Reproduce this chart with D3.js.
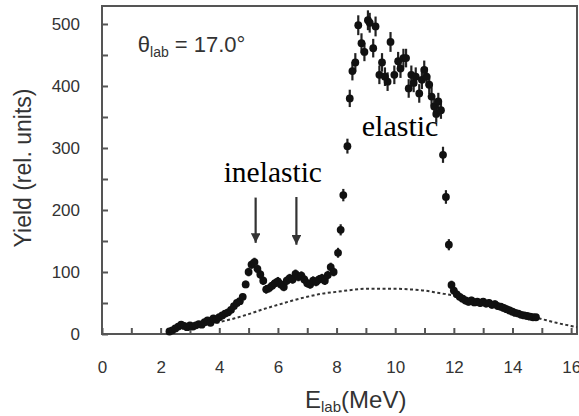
<!DOCTYPE html>
<html>
<head>
<meta charset="utf-8">
<script src="https://cdn.jsdelivr.net/npm/d3@7"></script>
<style>
  html, body { margin: 0; padding: 0; background: #fff; }
  svg { display: block; }
</style>
</head>
<body>
<div id="chart"></div>
<script>
// ---- Data ----
const energies = [
  2.3, 2.4, 2.5, 2.6, 2.7, 2.8, 2.9, 3.0, 3.1, 3.2, 3.3, 3.4, 3.5, 3.6, 3.7, 3.8, 3.9,
  4.0, 4.1, 4.2, 4.3, 4.4, 4.5, 4.6, 4.7, 4.8, 4.9, 5.0, 5.1, 5.2, 5.3, 5.4, 5.5, 5.6,
  5.7, 5.8, 5.9, 6.0, 6.1, 6.2, 6.3, 6.4, 6.5, 6.6, 6.7, 6.8, 6.9, 7.0, 7.1, 7.2, 7.3,
  7.4, 7.5, 7.6, 7.7, 7.8, 7.9,
  8.05, 8.14, 8.23, 8.37, 8.45, 8.54, 8.64, 8.74, 8.85, 8.95, 9.07, 9.13, 9.25, 9.33,
  9.46, 9.55, 9.65, 9.74, 9.84, 9.97, 10.10, 10.18, 10.28, 10.37, 10.46, 10.55, 10.63,
  10.70, 10.82, 10.91, 10.99, 11.07, 11.16, 11.24, 11.33, 11.40, 11.47, 11.56, 11.63,
  11.73, 11.83, 11.92,
  12.0, 12.1, 12.2, 12.3, 12.4, 12.5, 12.6, 12.7, 12.8, 12.9, 13.0, 13.1, 13.2, 13.3,
  13.4, 13.5, 13.6, 13.7, 13.8, 13.9, 14.0, 14.1, 14.2, 14.3, 14.4, 14.5, 14.6, 14.7, 14.8
];
const yields = [
  4, 6, 9, 12, 15, 13, 11, 14, 12, 14, 16, 15, 19, 22, 18, 25, 23,
  27, 30, 33, 35, 39, 45, 50, 53, 60, 80, 100, 112, 116, 105, 96, 86, 72,
  74, 78, 82, 85, 80, 76, 86, 90, 88, 97, 92, 94, 88, 82, 80, 86, 84,
  88, 90, 86, 95, 108, 100,
  131, 168, 224, 303, 380, 424, 438, 498, 469, 455, 506, 502, 461, 496,
  418, 438, 415, 407, 471, 418, 440, 428, 445, 445, 396, 418, 405,
  415, 388, 410, 426, 415, 402, 383, 367, 355, 375, 361, 289,
  221, 144, 79,
  70, 64, 60, 57, 54, 52, 54, 51, 52, 50, 52, 49, 50, 47,
  48, 45, 44, 42, 40, 38, 36, 34, 33, 31, 30, 29, 28, 27, 27
];
const errors = [
  3, 3, 3, 3, 3, 3, 3, 3, 3, 3, 3, 3, 3, 3, 3, 3, 3,
  4, 4, 4, 4, 4, 4, 5, 5, 5, 6, 7, 7, 7, 7, 7, 7, 7,
  7, 7, 7, 7, 7, 7, 7, 7, 7, 7, 7, 7, 7, 7, 7, 7, 7,
  7, 7, 7, 7, 7, 7,
  8, 9, 10, 12, 14, 15, 15, 16, 16, 15, 16, 16, 15, 16,
  15, 15, 15, 15, 16, 15, 15, 15, 15, 15, 15, 15, 15,
  15, 15, 15, 15, 15, 15, 15, 14, 14, 14, 14, 13,
  11, 9, 7,
  6, 6, 6, 6, 6, 6, 6, 6, 6, 6, 6, 6, 6, 6,
  6, 6, 6, 6, 6, 6, 6, 5, 5, 5, 5, 5, 5, 5, 5
];
// background (dotted) curve
const bgEnergies = [3.9, 4.5, 5.0, 5.5, 6.0, 6.5, 7.0, 7.5, 8.0, 8.5, 9.0, 9.5, 10.0,
  10.5, 11.0, 11.5, 12.0, 12.5, 13.0, 13.5, 14.0, 14.5, 15.0, 15.5, 16.0, 16.2];
const bgYields = [18, 25, 32, 40, 47, 54, 60, 65, 68, 71, 73, 73, 73,
  72, 70, 66, 62, 56, 50, 43, 37, 30, 24, 18, 13, 11];

const xTicks = [0, 1, 2, 3, 4, 5, 6, 7, 8, 9, 10, 11, 12, 13, 14, 15, 16];
const xTickLabels = ["0", "", "2", "", "4", "", "6", "", "8", "", "10", "", "12", "", "14", "", "16"];
const yTicks = [0, 50, 100, 150, 200, 250, 300, 350, 400, 450, 500];
const yTickLabels = ["0", "", "100", "", "200", "", "300", "", "400", "", "500"];

// annotations (data coordinates)
const arrowE = [5.24, 6.63];
const arrowFrom = [220, 221];
const arrowTo = [147, 144];

// ---- Layout ----
const W = 579, H = 416;
const margin = { top: 6, right: 2, bottom: 82, left: 102 };

const svg = d3.select("#chart").append("svg")
  .attr("width", W).attr("height", H);

const x = d3.scaleLinear().domain([0, 16.2]).range([margin.left, W - margin.right]);
const y = d3.scaleLinear().domain([0, 529]).range([H - margin.bottom, margin.top]);

const axisColor = "#555";

// defs: arrowhead
svg.append("defs").append("marker")
  .attr("id", "ah").attr("viewBox", "0 0 10 10")
  .attr("refX", 10).attr("refY", 5)
  .attr("markerWidth", 4.4).attr("markerHeight", 4.4)
  .attr("markerUnits", "strokeWidth")
  .attr("orient", "auto")
  .append("path").attr("d", "M0,0 L10,5 L0,10 z").attr("fill", "#333");

// frame
svg.append("rect")
  .attr("x", x(0)).attr("y", y(529))
  .attr("width", x(16.2) - x(0)).attr("height", y(0) - y(529))
  .attr("fill", "none").attr("stroke", axisColor).attr("stroke-width", 2);

// axes
const xAxis = d3.axisBottom(x).tickValues(xTicks)
  .tickFormat((d, i) => xTickLabels[i]).tickSize(-6).tickPadding(27);
const gx = svg.append("g").attr("transform", `translate(0,${y(0)})`).call(xAxis);
gx.select(".domain").remove();
gx.selectAll(".tick line").attr("stroke", axisColor).attr("stroke-width", 2);
gx.selectAll(".tick text").attr("fill", "#333")
  .style("font-family", "'Liberation Sans', Arial, sans-serif").style("font-size", "17px");

const yAxis = d3.axisLeft(y).tickValues(yTicks)
  .tickFormat((d, i) => yTickLabels[i]).tickSize(-6).tickPadding(22);
const gy = svg.append("g").attr("transform", `translate(${x(0)},0)`).call(yAxis);
gy.select(".domain").remove();
gy.selectAll(".tick line").attr("stroke", axisColor).attr("stroke-width", 2);
gy.selectAll(".tick text").attr("fill", "#333")
  .style("font-family", "'Liberation Sans', Arial, sans-serif").style("font-size", "17px");

// axis titles
const xt = svg.append("text")
  .attr("x", 305).attr("y", 408)
  .attr("fill", "#333")
  .style("font-family", "'Liberation Sans', Arial, sans-serif").style("font-size", "24px");
xt.append("tspan").text("E");
xt.append("tspan").attr("dy", 4).style("font-size", "15px").text("lab");
xt.append("tspan").attr("dy", -4).text("(MeV)");

svg.append("text")
  .attr("transform", `translate(31,${168}) rotate(-90)`)
  .attr("text-anchor", "middle")
  .attr("fill", "#333")
  .style("font-family", "'Liberation Sans', Arial, sans-serif").style("font-size", "23px")
  .text("Yield (rel. units)");

// background dotted curve
const bgData = bgEnergies.map((e, i) => ({ e, v: bgYields[i] }));
svg.append("path")
  .datum(bgData)
  .attr("fill", "none").attr("stroke", "#333").attr("stroke-width", 2)
  .attr("stroke-dasharray", "3,2.5")
  .attr("d", d3.line().x(d => x(d.e)).y(d => y(d.v)).curve(d3.curveMonotoneX));

// data points
const pts = energies.map((e, i) => ({ e, v: yields[i], err: errors[i] }));
svg.append("g").selectAll("line").data(pts).join("line")
  .attr("x1", d => x(d.e)).attr("x2", d => x(d.e))
  .attr("y1", d => y(d.v - d.err)).attr("y2", d => y(d.v + d.err))
  .attr("stroke", "#222").attr("stroke-width", 2.2);
svg.append("g").selectAll("circle").data(pts).join("circle")
  .attr("cx", d => x(d.e)).attr("cy", d => y(d.v)).attr("r", 3.9)
  .attr("fill", "#111");

// arrows
svg.append("g").selectAll("line").data(arrowE).join("line")
  .attr("x1", d => x(d)).attr("x2", d => x(d))
  .attr("y1", (d, i) => y(arrowFrom[i])).attr("y2", (d, i) => y(arrowTo[i]))
  .attr("stroke", "#333").attr("stroke-width", 2.2)
  .attr("marker-end", "url(#ah)");

// labels
svg.append("text")
  .attr("x", x(4.15)).attr("y", y(245))
  .attr("fill", "#000")
  .style("font-family", "'Liberation Serif', 'Times New Roman', serif").style("font-size", "29.5px")
  .text("inelastic");
svg.append("text")
  .attr("x", x(8.86)).attr("y", y(319))
  .attr("fill", "#000")
  .style("font-family", "'Liberation Serif', 'Times New Roman', serif").style("font-size", "30px")
  .text("elastic");

const th = svg.append("text")
  .attr("x", x(1.22)).attr("y", y(455))
  .attr("fill", "#333")
  .style("font-family", "'Liberation Sans', Arial, sans-serif").style("font-size", "22px");
th.append("tspan").text("θ");
th.append("tspan").attr("dy", 5).style("font-size", "14px").text("lab");
th.append("tspan").attr("dy", -5).text(" = 17.0°");
</script>
</body>
</html>
